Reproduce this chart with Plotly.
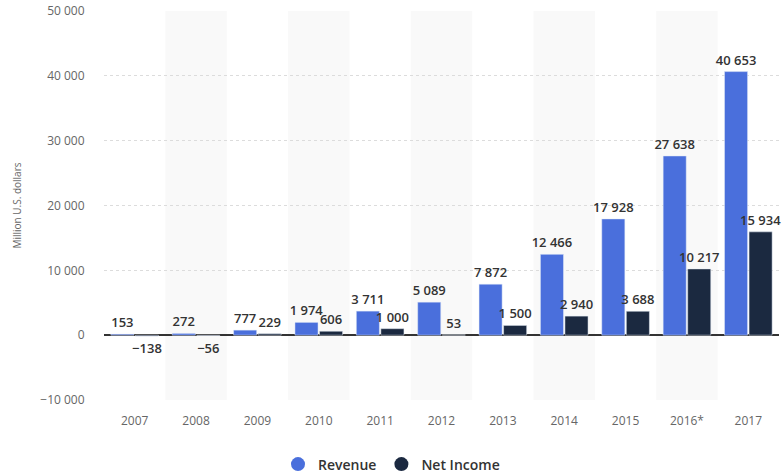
import plotly.graph_objects as go

years = ["2007", "2008", "2009", "2010", "2011", "2012", "2013", "2014", "2015", "2016*", "2017"]
revenue = [153, 272, 777, 1974, 3711, 5089, 7872, 12466, 17928, 27638, 40653]
net_income = [-138, -56, 229, 606, 1000, 53, 1500, 2940, 3688, 10217, 15934]
shaded = ["2008", "2010", "2012", "2014", "2016*"]

rev_color = "#4a6fdc"
ni_color = "#1b2940"

def fmt(v):
    s = f"{abs(v):,}".replace(",", " ")
    return ("−" if v < 0 else "") + s

label_font = dict(size=13, color="#333333", family="Open Sans", weight=600)

fig = go.Figure()
fig.add_trace(go.Bar(x=years, y=revenue, name="Revenue", marker_color=rev_color,
                     text=[fmt(v) for v in revenue], textposition="outside",
                     constraintext="none", cliponaxis=False, showlegend=False,
                     textfont=label_font))
fig.add_trace(go.Bar(x=years, y=net_income, name="Net Income", marker_color=ni_color,
                     text=[fmt(v) for v in net_income], textposition="outside",
                     constraintext="none", cliponaxis=False, showlegend=False,
                     textfont=label_font))
# legend entries with circle markers
fig.add_trace(go.Scatter(x=[None], y=[None], mode="markers", name="Revenue",
                         marker=dict(symbol="circle", size=14, color=rev_color)))
fig.add_trace(go.Scatter(x=[None], y=[None], mode="markers", name="Net Income",
                         marker=dict(symbol="circle", size=14, color=ni_color)))

shapes = []
for c in shaded:
    i = years.index(c)
    shapes.append(dict(type="rect", xref="x", yref="paper", x0=i - 0.5, x1=i + 0.5,
                       y0=0, y1=1, fillcolor="#f9f9f9", line=dict(width=0), layer="below"))

fig.update_layout(
    width=783, height=474,
    margin=dict(l=104, r=4, t=11, b=74, autoexpand=False),
    plot_bgcolor="white", paper_bgcolor="white",
    barmode="group", bargap=0.2, bargroupgap=0.06,
    separators=". ",
    font=dict(family="Open Sans", color="#666666"),
    shapes=shapes,
    legend=dict(orientation="h", x=0.5, xanchor="center", xref="container",
                y=0.02, yanchor="middle", yref="container",
                font=dict(size=14, color="#333333", family="Open Sans", weight=600),
                itemwidth=30),
    xaxis=dict(type="category", showgrid=False, tickfont=dict(size=12, color="#666666"),
               ticks="outside", ticklen=10, tickcolor="rgba(0,0,0,0)",
               showline=False, range=[-0.5, 10.5]),
    yaxis=dict(range=[-10000, 50000], dtick=10000, tickformat=",",
               gridcolor="#dcdcdc", griddash="dot", gridwidth=1,
               zeroline=True, zerolinecolor="#333333", zerolinewidth=1.5,
               tickfont=dict(size=12, color="#666666"),
               ticks="outside", ticklen=16, tickcolor="rgba(0,0,0,0)",
               title=dict(text="Million U.S. dollars", font=dict(size=10, color="#666666"), standoff=16)),
)

fig.write_html("out.html")
